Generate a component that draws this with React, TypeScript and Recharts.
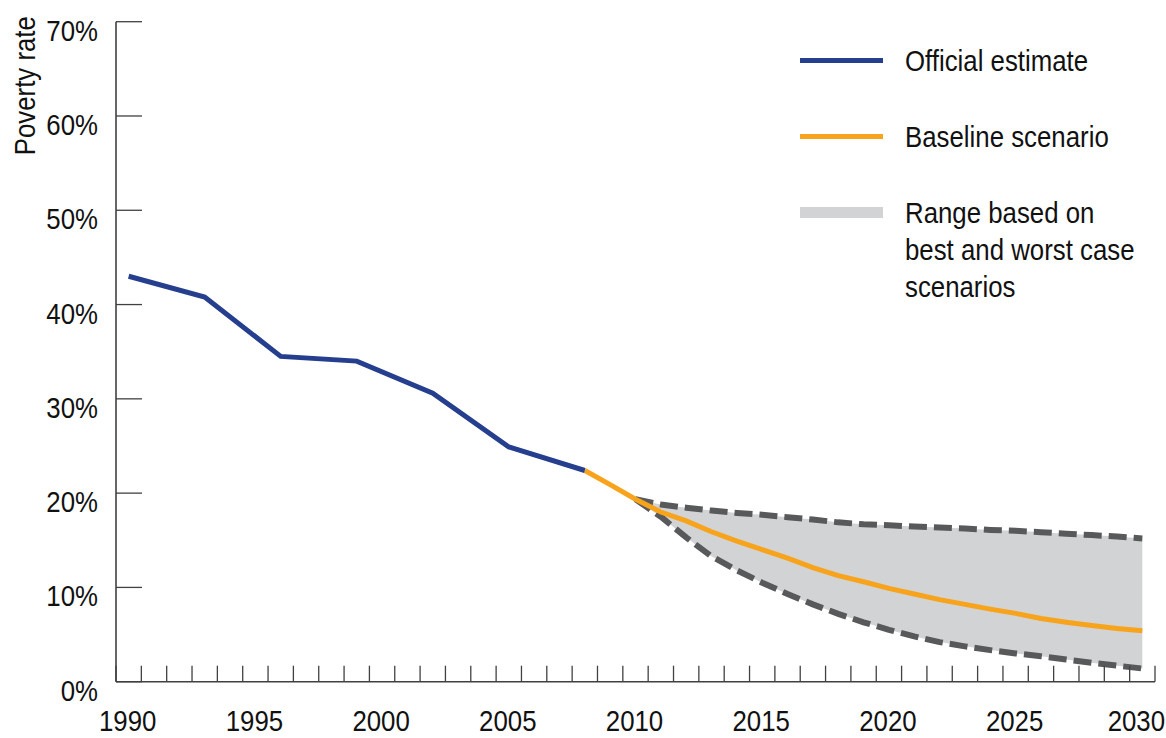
import { ComposedChart, Line, Area, XAxis, YAxis, Legend } from 'recharts';

// years shown on the axis (one band per year)
const years = [
  1990, 1991, 1992, 1993, 1994, 1995, 1996, 1997, 1998, 1999,
  2000, 2001, 2002, 2003, 2004, 2005, 2006, 2007, 2008, 2009,
  2010, 2011, 2012, 2013, 2014, 2015, 2016, 2017, 2018, 2019,
  2020, 2021, 2022, 2023, 2024, 2025, 2026, 2027, 2028, 2029, 2030,
];
const yearLabels = [1990, 1995, 2000, 2005, 2010, 2015, 2020, 2025, 2030];
const rateTicks = [0, 10, 20, 30, 40, 50, 60, 70];

const officialYears = [1990, 1993, 1996, 1999, 2002, 2005, 2008];
const officialRate = [43.0, 40.8, 34.5, 34.0, 30.6, 24.9, 22.4];

const baselineYears = [
  2008, 2009, 2010, 2011, 2012, 2013, 2014, 2015, 2016, 2017, 2018, 2019,
  2020, 2021, 2022, 2023, 2024, 2025, 2026, 2027, 2028, 2029, 2030,
];
const baselineRate = [
  22.4, 20.9, 19.35, 18.0, 17.05, 15.9, 14.9, 14.0, 13.1, 12.1, 11.25, 10.6,
  9.9, 9.3, 8.7, 8.2, 7.7, 7.25, 6.7, 6.3, 5.95, 5.65, 5.4,
];

const rangeYears = [
  2010, 2011, 2012, 2013, 2014, 2015, 2016, 2017, 2018, 2019,
  2020, 2021, 2022, 2023, 2024, 2025, 2026, 2027, 2028, 2029, 2030,
];
const upperRate = [
  19.35, 18.8, 18.45, 18.15, 17.9, 17.7, 17.45, 17.2, 16.9, 16.7,
  16.6, 16.45, 16.35, 16.25, 16.1, 16.0, 15.85, 15.7, 15.55, 15.4, 15.2,
];
const lowerRate = [
  19.35, 17.5, 15.3, 13.3, 11.8, 10.5, 9.3, 8.2, 7.2, 6.3,
  5.5, 4.8, 4.2, 3.75, 3.35, 3.0, 2.7, 2.35, 2.0, 1.7, 1.4,
];

const BLUE = '#253f8e';
const ORANGE = '#f8a31c';
const RANGE = '#d1d3d4';
const DASH = '#58595b';
const AXIS = '#414042';
const FONT = "'Liberation Sans', Arial, sans-serif";
const SQUEEZE = 0.89; // the original uses a condensed face

const WIDTH = 1166;
const HEIGHT = 738;
const Y_AXIS_W = 116;
const RIGHT = 11;
const HALF_BAND = (WIDTH - Y_AXIS_W - RIGHT) / years.length / 2;

const legendItems = [
  { lines: ['Official estimate'], color: BLUE, thickness: 5 },
  { lines: ['Baseline scenario'], color: ORANGE, thickness: 5 },
  { lines: ['Range based on', 'best and worst case', 'scenarios'], color: RANGE, thickness: 11 },
];

const data = years.map(year => {
  const o = officialYears.indexOf(year);
  const b = baselineYears.indexOf(year);
  const r = rangeYears.indexOf(year);
  return {
    year,
    official: o >= 0 ? officialRate[o] : null,
    baseline: b >= 0 ? baselineRate[b] : null,
    upper: r >= 0 ? upperRate[r] : null,
    lower: r >= 0 ? lowerRate[r] : null,
    range: r >= 0 ? [lowerRate[r], upperRate[r]] : null,
  };
});

// small ticks sit on the band edges, labels in the middle of the band
const bandEdges = years.map(y => y - 0.5).concat(years[years.length - 1] + 0.5);
const xDomain = [bandEdges[0], bandEdges[bandEdges.length - 1]];

const textStyle = { fontFamily: FONT, fontSize: 29, fill: '#111' };

function YearTick(props: any) {
  const { x, y, payload } = props;
  const year = payload.value + 0.5;
  if (!yearLabels.includes(year)) return null;
  const shift = year === yearLabels[yearLabels.length - 1] ? -6 : -1;
  return (
    <text
      transform={`translate(${x + HALF_BAND + shift}, ${y}) scale(${SQUEEZE}, 1)`}
      dy="0.72em"
      textAnchor="middle"
      style={textStyle}
    >
      {year}
    </text>
  );
}

function RateTick(props: any) {
  const { x, y, payload } = props;
  return (
    <text
      transform={`translate(${x}, ${y + 8.5}) scale(${SQUEEZE}, 1)`}
      dy="0.36em"
      textAnchor="end"
      style={textStyle}
    >
      {`${payload.value}%`}
    </text>
  );
}

function LegendBox() {
  return (
    <div style={{ fontFamily: FONT, fontSize: 29, color: '#111' }}>
      {legendItems.map(item => (
        <div key={item.lines[0]} style={{ display: 'flex', alignItems: 'flex-start', height: 76 }}>
          <svg width={83} height={37} style={{ marginRight: 22, flex: 'none' }}>
            <line x1={0} x2={83} y1={17.5} y2={17.5} stroke={item.color} strokeWidth={item.thickness} />
          </svg>
          <div
            style={{
              lineHeight: '37px',
              whiteSpace: 'nowrap',
              transform: `scaleX(${SQUEEZE})`,
              transformOrigin: 'left top',
            }}
          >
            {item.lines.map(l => <div key={l}>{l}</div>)}
          </div>
        </div>
      ))}
    </div>
  );
}

export default function App() {
  return (
    <div style={{ position: 'absolute', left: 0, top: 0, background: '#fff' }}>
      <ComposedChart
        width={WIDTH}
        height={HEIGHT}
        data={data}
        margin={{ top: 21.7, right: RIGHT, bottom: 0, left: 0 }}
      >
        <XAxis
          dataKey="year"
          type="number"
          domain={xDomain}
          allowDataOverflow
          ticks={bandEdges}
          interval={0}
          height={56.3}
          tickSize={-16}
          tickMargin={44}
          axisLine={{ stroke: AXIS, strokeWidth: 1.6 }}
          tickLine={{ stroke: AXIS, strokeWidth: 1.3 }}
          tick={<YearTick />}
        />
        <YAxis
          type="number"
          domain={[0, 70]}
          ticks={rateTicks}
          interval={0}
          width={Y_AXIS_W}
          tickSize={-26}
          tickMargin={44}
          axisLine={{ stroke: AXIS, strokeWidth: 1.6 }}
          tickLine={{ stroke: AXIS, strokeWidth: 1.3 }}
          tick={<RateTick />}
          label={{
            content: (p: any) => (
              <text
                transform={`translate(${p.viewBox.x + 35}, ${p.viewBox.y + 64}) rotate(-90) scale(${SQUEEZE}, 1)`}
                textAnchor="middle"
                style={textStyle}
              >
                Poverty rate
              </text>
            ),
          }}
        />
        <Legend
          layout="vertical"
          align="center"
          verticalAlign="middle"
          wrapperStyle={{ left: 800, top: 43, width: 366 }}
          content={() => <LegendBox />}
        />
        <Area
          dataKey="range"
          type="linear"
          stroke="none"
          fill={RANGE}
          fillOpacity={1}
          isAnimationActive={false}
          activeDot={false}
        />
        <Line
          dataKey="upper"
          type="linear"
          stroke={DASH}
          strokeWidth={6}
          strokeDasharray="18 7"
          dot={false}
          activeDot={false}
          isAnimationActive={false}
        />
        <Line
          dataKey="lower"
          type="linear"
          stroke={DASH}
          strokeWidth={6}
          strokeDasharray="18 7"
          dot={false}
          activeDot={false}
          isAnimationActive={false}
        />
        <Line
          dataKey="baseline"
          type="linear"
          stroke={ORANGE}
          strokeWidth={5}
          dot={false}
          activeDot={false}
          isAnimationActive={false}
        />
        <Line
          dataKey="official"
          type="linear"
          stroke={BLUE}
          strokeWidth={5}
          connectNulls
          dot={false}
          activeDot={false}
          isAnimationActive={false}
        />
      </ComposedChart>
    </div>
  );
}
